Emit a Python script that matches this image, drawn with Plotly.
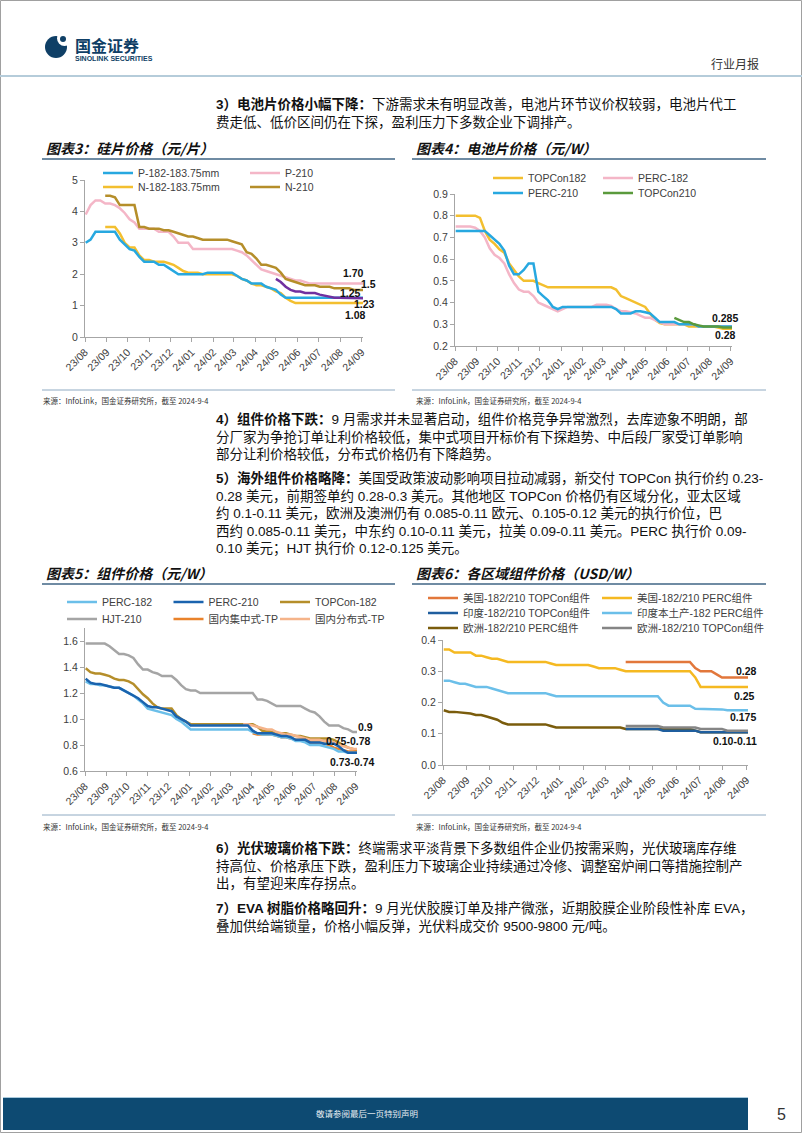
import plotly.graph_objects as go
import pandas as pd

W, H = 802, 1133
FONT_CN = "Noto Sans CJK SC"
FONT_LAT = "Liberation Sans, Arial, Noto Sans CJK SC"

# ---------------- data ----------------
week_dates = pd.date_range("2023-08-02", "2024-09-04", freq="7D").strftime("%Y-%m-%d").tolist()  # 58 weekly quotes
month_ticks = pd.date_range("2023-08-01", "2024-09-01", freq="MS").strftime("%Y-%m-%d").tolist()
month_labels = ["23/08", "23/09", "23/10", "23/11", "23/12", "24/01", "24/02",
                "24/03", "24/04", "24/05", "24/06", "24/07", "24/08", "24/09"]

# Chart 3: wafer prices (元/片)
wafer_p182 = [3.0, 3.1, 3.35, 3.35, 3.35, 3.35, 3.35, 3.1, 2.95, 2.8,
              2.75, 2.55, 2.4, 2.4, 2.4, 2.3, 2.3, 2.2, 2.1, 2.0,
              2.0, 2.0, 2.0, 2.0, 2.0, 2.05, 2.05, 2.05, 2.05, 2.05,
              2.05, 1.95, 1.85, 1.8, 1.7, 1.7, 1.7, 1.6, 1.55, 1.5,
              1.35, 1.25, 1.25, 1.25, 1.25, 1.25, 1.25, 1.25, 1.25, 1.25,
              1.25, 1.25, 1.25, 1.25, 1.25, 1.25, 1.25, 1.25]
wafer_p210 = [3.9, 4.2, 4.35, 4.35, 4.25, 4.25, 4.2, 4.1, 3.95, 3.75,
              3.65, 3.45, 3.45, 3.45, 3.45, 3.35, 3.35, 3.35, 3.2, 3.0,
              3.0, 3.0, 2.8, 2.8, 2.8, 2.8, 2.8, 2.8, 2.8, 2.8,
              2.8, 2.75, 2.7, 2.6, 2.45, 2.3, 2.15, 2.1, 2.05, 2.0,
              1.95, 1.9, 1.85, 1.8, 1.8, 1.75, 1.7, 1.7, 1.7, 1.7,
              1.7, 1.7, 1.7, 1.7, 1.7, 1.7, 1.7, 1.7]
wafer_n182 = [None, None, None, None, 3.5, 3.5, 3.5, 3.3, 3.0, 2.85,
              2.85, 2.6, 2.45, 2.45, 2.4, 2.4, 2.4, 2.35, 2.3, 2.2,
              2.1, 2.05, 2.05, 2.05, 2.0, 2.0, 2.0, 2.0, 2.0, 2.0,
              2.0, 1.95, 1.85, 1.8, 1.7, 1.65, 1.65, 1.6, 1.55, 1.45,
              1.4, 1.25, 1.15, 1.08, 1.08, 1.08, 1.08, 1.08, 1.08, 1.08,
              1.08, 1.08, 1.08, 1.08, 1.08, 1.08, 1.08, 1.08]
wafer_n210 = [None, None, None, None, 4.5, 4.5, 4.45, 4.2, 4.2, 4.2,
              4.2, 3.5, 3.5, 3.45, 3.45, 3.45, 3.4, 3.4, 3.35, 3.3,
              3.25, 3.2, 3.2, 3.15, 3.1, 3.1, 3.1, 3.1, 3.1, 3.1,
              3.05, 3.0, 2.95, 2.7, 2.65, 2.5, 2.3, 2.3, 2.25, 2.2,
              2.05, 1.85, 1.8, 1.75, 1.7, 1.65, 1.65, 1.65, 1.6, 1.6,
              1.6, 1.55, 1.55, 1.55, 1.55, 1.5, 1.5, 1.5]
wafer_other = [None, None, None, None, None, None, None, None, None, None,
               None, None, None, None, None, None, None, None, None, None,
               None, None, None, None, None, None, None, None, None, None,
               None, None, None, None, None, None, None, None, None, 1.85,
               1.75, 1.6, 1.5, 1.45, 1.45, 1.4, 1.4, 1.4, 1.35, 1.32,
               1.3, 1.25, 1.25, 1.25, 1.25, 1.25, 1.23, 1.23]
wafer_labels = ["1.70", "1.5", "1.25", "1.23", "1.08"]
wafer_label_x = ["2024-08-21", "2024-09-01", "2024-08-16", "2024-09-01", "2024-08-23"]
wafer_label_y = [2.04, 1.69, 1.40, 1.05, 0.70]

# Chart 4: cell prices (元/W)
cell_topcon182 = [0.8, 0.8, 0.8, 0.8, 0.8, 0.79, 0.73, 0.69, 0.67, 0.645,
                  0.63, 0.58, 0.55, 0.52, 0.5, 0.5, 0.5, 0.49, 0.48, 0.47,
                  0.47, 0.47, 0.47, 0.47, 0.47, 0.47, 0.47, 0.47, 0.47, 0.47,
                  0.47, 0.47, 0.47, 0.46, 0.43, 0.42, 0.41, 0.4, 0.39, 0.38,
                  0.35, 0.32, 0.305, 0.3, 0.3, 0.3, 0.3, 0.3, 0.29, 0.29,
                  0.29, 0.29, 0.29, 0.29, 0.285, 0.28, 0.28, 0.28]
cell_perc182 = [0.75, 0.75, 0.75, 0.75, 0.745, 0.73, 0.7, 0.65, 0.62, 0.605,
                0.58, 0.53, 0.49, 0.46, 0.45, 0.45, 0.43, 0.4, 0.39, 0.38,
                0.37, 0.36, 0.37, 0.38, 0.38, 0.38, 0.38, 0.38, 0.38, 0.39,
                0.39, 0.39, 0.385, 0.37, 0.36, 0.36, 0.355, 0.35, 0.34, 0.33,
                0.33, 0.32, 0.31, 0.3, 0.3, 0.3, 0.3, 0.3, 0.3, 0.3,
                0.29, 0.29, 0.29, 0.29, 0.29, 0.29, 0.29, 0.29]
cell_perc210 = [0.73, 0.73, 0.73, 0.73, 0.73, 0.73, 0.73, 0.71, 0.69, 0.67,
                0.64, 0.57, 0.53, 0.53, 0.55, 0.58, 0.58, 0.45, 0.43, 0.41,
                0.38, 0.37, 0.38, 0.38, 0.38, 0.38, 0.38, 0.38, 0.38, 0.38,
                0.38, 0.38, 0.38, 0.37, 0.35, 0.35, 0.35, 0.36, 0.36, 0.355,
                0.35, 0.33, 0.31, 0.31, 0.31, 0.31, 0.3, 0.3, 0.3, 0.3,
                0.29, 0.29, 0.29, 0.29, 0.29, 0.29, 0.29, 0.29]
cell_topcon210 = [None, None, None, None, None, None, None, None, None, None,
                  None, None, None, None, None, None, None, None, None, None,
                  None, None, None, None, None, None, None, None, None, None,
                  None, None, None, None, None, None, None, None, None, None,
                  None, None, None, None, None, 0.33, 0.32, 0.31, 0.31, 0.3,
                  0.295, 0.29, 0.29, 0.29, 0.29, 0.285, 0.285, 0.285]
cell_labels = ["0.285", "0.28"]
cell_label_x = ["2024-08-24", "2024-08-24"]
cell_label_y = [0.330, 0.251]

# Chart 5: module prices (元/W)
mod_perc182 = [1.29, 1.27, 1.27, 1.26, 1.26, 1.25, 1.24, 1.24, 1.22, 1.2,
               1.18, 1.15, 1.12, 1.08, 1.07, 1.06, 1.05, 1.04, 1.03, 1.0,
               0.98, 0.95, 0.92, 0.92, 0.92, 0.92, 0.92, 0.92, 0.92, 0.92,
               0.92, 0.92, 0.92, 0.92, 0.92, 0.9, 0.89, 0.88, 0.88, 0.88,
               0.87, 0.86, 0.86, 0.85, 0.83, 0.83, 0.82, 0.8, 0.8, 0.8,
               0.79, 0.78, 0.77, 0.75, 0.75, 0.74, 0.74, 0.74]
mod_perc210 = [1.31, 1.28, 1.27, 1.27, 1.26, 1.25, 1.24, 1.24, 1.22, 1.2,
               1.18, 1.16, 1.13, 1.1, 1.09, 1.09, 1.08, 1.07, 1.06, 1.02,
               1.0, 0.98, 0.95, 0.95, 0.95, 0.95, 0.95, 0.95, 0.95, 0.95,
               0.95, 0.95, 0.95, 0.95, 0.95, 0.91, 0.89, 0.89, 0.89, 0.89,
               0.88, 0.87, 0.87, 0.86, 0.84, 0.84, 0.84, 0.82, 0.82, 0.82,
               0.81, 0.81, 0.81, 0.79, 0.76, 0.74, 0.74, 0.74]
mod_topcon182 = [1.39, 1.36, 1.35, 1.35, 1.34, 1.33, 1.31, 1.3, 1.3, 1.29,
                 1.27, 1.23, 1.19, 1.16, 1.12, 1.09, 1.08, 1.08, 1.08, 1.03,
                 1.0, 0.98, 0.96, 0.96, 0.96, 0.96, 0.96, 0.96, 0.96, 0.96,
                 0.96, 0.96, 0.96, 0.96, 0.96, 0.96, 0.94, 0.91, 0.91, 0.9,
                 0.89, 0.89, 0.89, 0.88, 0.87, 0.87, 0.86, 0.85, 0.85, 0.85,
                 0.85, 0.85, 0.84, 0.82, 0.8, 0.78, 0.77, 0.76]
mod_hjt210 = [1.58, 1.58, 1.58, 1.58, 1.58, 1.56, 1.53, 1.5, 1.5, 1.49,
              1.47, 1.42, 1.38, 1.38, 1.36, 1.35, 1.33, 1.33, 1.33, 1.3,
              1.26, 1.23, 1.22, 1.22, 1.2, 1.2, 1.2, 1.2, 1.2, 1.2,
              1.2, 1.2, 1.2, 1.2, 1.2, 1.2, 1.15, 1.15, 1.14, 1.12,
              1.1, 1.1, 1.1, 1.1, 1.1, 1.1, 1.08, 1.06, 1.05, 1.02,
              0.98, 0.95, 0.95, 0.95, 0.93, 0.92, 0.9, 0.9]
mod_central_tp = [None, None, None, None, None, None, None, None, None, None,
                  None, None, None, None, None, None, None, None, None, None,
                  None, None, None, None, None, None, None, None, None, None,
                  None, None, None, None, None, 0.89, 0.88, 0.88, 0.88, 0.88,
                  0.87, 0.86, 0.86, 0.85, 0.84, 0.84, 0.84, 0.82, 0.82, 0.82,
                  0.81, 0.8, 0.78, 0.77, 0.76, 0.75, 0.75, 0.75]
mod_distrib_tp = [None, None, None, None, None, None, None, None, None, None,
                  None, None, None, None, None, None, None, None, None, None,
                  None, None, None, None, None, None, None, None, None, None,
                  None, None, None, 0.96, 0.96, 0.95, 0.94, 0.93, 0.92, 0.92,
                  0.9, 0.89, 0.88, 0.88, 0.87, 0.86, 0.85, 0.84, 0.84, 0.84,
                  0.83, 0.83, 0.82, 0.8, 0.79, 0.78, 0.77, 0.77]
mod_labels = ["0.9", "0.75-0.78", "0.73-0.74"]
mod_label_x = ["2024-09-01", "2024-08-22", "2024-08-27"]
mod_label_y = [0.941, 0.833, 0.672]

# Chart 6: regional module prices (USD/W)
us_topcon = [None, None, None, None, None, None, None, None, None, None,
             None, None, None, None, None, None, None, None, None, None,
             None, None, None, None, None, None, None, None, None, None,
             None, None, None, None, 0.33, 0.33, 0.33, 0.33, 0.33, 0.33,
             0.33, 0.33, 0.33, 0.33, 0.33, 0.33, 0.33, 0.31, 0.3, 0.3,
             0.3, 0.29, 0.28, 0.28, 0.28, 0.28, 0.28, 0.28]
us_perc = [0.37, 0.37, 0.36, 0.36, 0.36, 0.36, 0.35, 0.35, 0.345, 0.34,
           0.34, 0.335, 0.33, 0.33, 0.33, 0.33, 0.33, 0.33, 0.33, 0.33,
           0.325, 0.32, 0.32, 0.32, 0.32, 0.32, 0.32, 0.32, 0.315, 0.31,
           0.31, 0.31, 0.31, 0.305, 0.3, 0.3, 0.3, 0.3, 0.3, 0.3,
           0.3, 0.3, 0.3, 0.3, 0.3, 0.3, 0.3, 0.28, 0.25, 0.25,
           0.25, 0.25, 0.25, 0.25, 0.25, 0.25, 0.25, 0.25]
india_topcon = [None, None, None, None, None, None, None, None, None, None,
                None, None, None, None, None, None, None, None, None, None,
                None, None, None, None, None, None, None, None, None, None,
                None, None, None, None, 0.115, 0.115, 0.115, 0.115, 0.115, 0.115,
                0.115, 0.11, 0.11, 0.11, 0.11, 0.11, 0.11, 0.11, 0.105, 0.105,
                0.105, 0.105, 0.105, 0.105, 0.105, 0.105, 0.105, 0.105]
india_perc = [0.27, 0.27, 0.265, 0.26, 0.26, 0.255, 0.25, 0.25, 0.25, 0.245,
              0.24, 0.235, 0.23, 0.23, 0.23, 0.23, 0.23, 0.23, 0.23, 0.23,
              0.225, 0.22, 0.22, 0.22, 0.22, 0.22, 0.22, 0.22, 0.22, 0.22,
              0.22, 0.22, 0.22, 0.22, 0.22, 0.22, 0.22, 0.22, 0.22, 0.22,
              0.22, 0.2, 0.19, 0.19, 0.19, 0.19, 0.19, 0.18, 0.18, 0.18,
              0.18, 0.18, 0.178, 0.175, 0.175, 0.175, 0.175, 0.175]
eu_perc = [0.175, 0.17, 0.17, 0.168, 0.165, 0.165, 0.16, 0.16, 0.155, 0.15,
           0.145, 0.135, 0.13, 0.13, 0.13, 0.13, 0.13, 0.13, 0.13, 0.13,
           0.125, 0.12, 0.12, 0.12, 0.12, 0.12, 0.12, 0.12, 0.12, 0.12,
           0.12, 0.12, 0.12, 0.12, 0.115, 0.115, 0.115, 0.115, 0.115, 0.115,
           0.115, 0.115, 0.115, 0.115, 0.115, 0.115, 0.115, 0.11, 0.105, 0.105,
           0.105, 0.105, 0.105, 0.105, 0.105, 0.105, 0.105, 0.105]
eu_topcon = [None, None, None, None, None, None, None, None, None, None,
             None, None, None, None, None, None, None, None, None, None,
             None, None, None, None, None, None, None, None, None, None,
             None, None, None, None, 0.125, 0.125, 0.125, 0.125, 0.125, 0.125,
             0.125, 0.12, 0.12, 0.12, 0.12, 0.12, 0.12, 0.12, 0.115, 0.115,
             0.115, 0.115, 0.115, 0.11, 0.11, 0.11, 0.11, 0.11]
region_labels = ["0.28", "0.25", "0.175", "0.10-0.11"]
region_label_x = ["2024-09-01", "2024-08-30", "2024-08-28", "2024-08-17"]
region_label_y = [0.301, 0.221, 0.155, 0.078]

# ---------------- helpers ----------------
def px(x):
    return x / W

def py(y):
    return 1 - y / H

annotations = []
shapes = []

def text(x, y, s, size=14, color="#1a1a1a", family=FONT_CN, xanchor="left",
         bold=False, italic=False, weight=None):
    annotations.append(dict(
        x=px(x), y=py(y), xref="paper", yref="paper", text=s, showarrow=False,
        xanchor=xanchor, yanchor="middle", align="left", borderpad=0,
        font=dict(family=family, size=size, color=color,
                  weight=weight if weight else ("bold" if bold else "normal"),
                  style="italic" if italic else "normal")))

def hline(y, x0, x1, color, width=1.0):
    shapes.append(dict(type="line", xref="paper", yref="paper", x0=px(x0), x1=px(x1),
                       y0=py(y), y1=py(y), line=dict(color=color, width=width)))

def rect(x0, y0, x1, y1, fill, line_color=None, line_width=0, kind="rect"):
    shapes.append(dict(type=kind, xref="paper", yref="paper", x0=px(x0), x1=px(x1),
                       y0=py(y1), y1=py(y0), fillcolor=fill,
                       line=dict(color=line_color or fill, width=line_width)))

fig = go.Figure()

def add_line(ax, y, name, color, legend=None, rank=1, width=2.5, lw=None):
    fig.add_trace(go.Scatter(
        x=week_dates, y=y, name=name, mode="lines",
        xaxis="x" if ax == 1 else f"x{ax}", yaxis="y" if ax == 1 else f"y{ax}",
        line=dict(color=color, width=width), connectgaps=False,
        legend=legend or "legend", showlegend=legend is not None, legendrank=rank,
        legendwidth=lw, hoverinfo="skip"))

# chart 3 (axis 1)
add_line(1, wafer_p210, "P-210", "#F4B6C7", "legend", 2, lw=110)
add_line(1, wafer_n182, "N-182-183.75mm", "#F3BF2F", "legend2", 1)
add_line(1, wafer_p182, "P-182-183.75mm", "#27A8E0", "legend", 1)
add_line(1, wafer_n210, "N-210", "#B58E2A", "legend2", 2, lw=110)
add_line(1, wafer_other, "N-other", "#7030A0", None)

# chart 4 (axis 2)
add_line(2, cell_topcon182, "TOPCon182", "#F3BF2F", "legend3", 1)
add_line(2, cell_perc182, "PERC-182", "#F4B6C7", "legend3", 2, lw=110)
add_line(2, cell_perc210, "PERC-210", "#27A8E0", "legend4", 1)
add_line(2, cell_topcon210, "TOPCon210", "#5A9A3C", "legend4", 2, lw=110)

# chart 5 (axis 3)
add_line(3, mod_hjt210, "HJT-210", "#A5A5A5", "legend6", 1)
add_line(3, mod_topcon182, "TOPCon-182", "#B58E2A", "legend5", 3, lw=110)
add_line(3, mod_distrib_tp, "国内分布式-TP", "#F5B48A", "legend6", 3, lw=110)
add_line(3, mod_central_tp, "国内集中式-TP", "#E9822B", "legend6", 2)
add_line(3, mod_perc182, "PERC-182", "#6BBFE9", "legend5", 1)
add_line(3, mod_perc210, "PERC-210", "#1A63AE", "legend5", 2)

# chart 6 (axis 4)
add_line(4, us_perc, "美国-182/210 PERC组件", "#F5B921", "legend7", 2, lw=160)
add_line(4, us_topcon, "美国-182/210 TOPCon组件", "#E2773B", "legend7", 1)
add_line(4, india_perc, "印度本土产-182 PERC组件", "#6BBFE9", "legend8", 2, lw=160)
add_line(4, eu_perc, "欧洲-182/210 PERC组件", "#7A5C0C", "legend9", 1)
add_line(4, india_topcon, "印度-182/210 TOPCon组件", "#1F5E9E", "legend8", 1)
add_line(4, eu_topcon, "欧洲-182/210 TOPCon组件", "#858585", "legend9", 2, lw=160)

# ---------------- axes ----------------
AX_COL = "#A6A6A6"
TICK_FONT = dict(family=FONT_LAT, size=10.5, color="#404040")

def xaxis(x0, x1, anchor):
    return dict(domain=[px(x0), px(x1)], anchor=anchor, type="date",
                range=["2023-08-01", "2024-09-03"], tickmode="array",
                tickvals=month_ticks, ticktext=month_labels, tickangle=-45,
                showline=True, linecolor=AX_COL, linewidth=1, ticks="outside",
                ticklen=4, tickcolor=AX_COL, showgrid=False, zeroline=False,
                tickfont=TICK_FONT, fixedrange=True, automargin=False)

def yaxis(top, bottom, anchor, rng, dtick, fmt):
    return dict(domain=[py(bottom), py(top)], anchor=anchor, range=rng,
                tick0=rng[0], dtick=dtick, tickformat=fmt,
                showline=True, linecolor=AX_COL, linewidth=1, ticks="outside",
                ticklen=4, tickcolor=AX_COL, showgrid=False, zeroline=False,
                tickfont=TICK_FONT, fixedrange=True, automargin=False)

layout_axes = dict(
    xaxis=xaxis(85, 363, "y"),
    yaxis=yaxis(180, 337, "x", [0, 5], 1, "d"),
    xaxis2=xaxis(455, 732, "y2"),
    yaxis2=yaxis(194, 346, "x2", [0.2, 0.9], 0.1, ".1f"),
    xaxis3=xaxis(85, 357, "y3"),
    yaxis3=yaxis(628, 771, "x3", [0.6, 1.7], 0.2, ".1f"),
    xaxis4=xaxis(443, 748, "y4"),
    yaxis4=yaxis(640, 765, "x4", [0, 0.4], 0.1, ".1f"),
)

# ---------------- legends (one per row) ----------------
LEG_FONT = dict(family=FONT_LAT, size=10.5, color="#404040")

def legend(x, y, entry):
    return dict(orientation="h", xref="paper", yref="paper", x=px(x), y=py(y),
                xanchor="left", yanchor="middle", bgcolor="rgba(0,0,0,0)",
                borderwidth=0, font=LEG_FONT, itemwidth=30, entrywidth=entry,
                entrywidthmode="pixels", traceorder="normal", itemclick=False,
                itemdoubleclick=False)

legends = dict(
    legend=legend(98, 173, 102), legend2=legend(98, 187, 102),
    legend3=legend(488, 178, 65), legend4=legend(488, 193, 65),
    legend5=legend(62, 602, 61.5), legend6=legend(62, 619, 61.5),
    legend7=legend(423, 598, 129), legend8=legend(423, 613, 129),
    legend9=legend(423, 628, 129),
)

# ---------------- end-of-line value labels ----------------
def value_labels(ax, labels, xs, ys, shifts=None):
    shifts = shifts or [0] * len(labels)
    for t, xv, yv, sh in zip(labels, xs, ys, shifts):
        annotations.append(dict(
            x=xv, y=yv, xref="x" if ax == 1 else f"x{ax}", yref="y" if ax == 1 else f"y{ax}",
            text=t, showarrow=False, xanchor="center", yanchor="middle", borderpad=0,
            xshift=sh,
            font=dict(family=FONT_LAT, size=10.5, color="#111111", weight="bold")))

value_labels(1, wafer_labels, wafer_label_x, wafer_label_y, [0, 7, 0, 3, 0])
value_labels(2, cell_labels, cell_label_x, cell_label_y)
value_labels(3, mod_labels, mod_label_x, mod_label_y, [10, 0, 0])
value_labels(4, region_labels, region_label_x, region_label_y)

# ---------------- page furniture ----------------
NAVY = "#0D4A72"
rect(0.5, 0.5, 801.5, 1132.5, "rgba(0,0,0,0)", "#A0A0A0", 1)
# logo
rect(45, 36, 67, 58, "#0F3F66", kind="circle")
rect(57, 31, 72, 46, "white", kind="circle")
rect(60, 36, 66, 42, "#0F3F66", kind="circle")
text(74, 45, "国金证券", size=16, color="#0F3F66", bold=True)
text(74, 58, "SINOLINK SECURITIES", size=7, color="#0F3F66", family=FONT_LAT, bold=True)
text(760, 64, "行业月报", size=12, color="#333333", xanchor="right")
hline(76, 0, 802, "#B5CCDA", 2)

BODY = 13.5
LINE = BODY * 1.3  # plotly line spacing for multi-line text
BODY_FONT = "Liberation Sans, Noto Sans CJK SC"

def para(y_first, lines, x=215):
    # one multi-line annotation per paragraph, centred on its middle line
    y_mid = y_first + (len(lines) - 1) * LINE / 2
    text(x, y_mid, "<br>".join(lines), size=BODY, color="#111111", family=BODY_FONT)

para(104, ["<b>3）电池片价格小幅下降：</b>下游需求未有明显改善，电池片环节议价权较弱，电池片代工",
           "费走低、低价区间仍在下探，盈利压力下多数企业下调排产。"])

# chart titles & rules
text(45, 148, "图表3：硅片价格（元/片）", size=14, color="#111111", bold=True, italic=True)
text(415, 148, "图表4：电池片价格（元/W）", size=14, color="#111111", bold=True, italic=True)
hline(159, 42, 395, "#3F6585", 1.5)
hline(159, 412, 766, "#3F6585", 1.5)
hline(390, 42, 395, "#8FAAC2", 1)
hline(390, 412, 766, "#8FAAC2", 1)
SRC = "来源：InfoLink，国金证券研究所，截至 2024-9-4"
text(42, 400, SRC, size=7.5, color="#333333")
text(415, 400, SRC, size=7.5, color="#333333")

para(419, ["<b>4）组件价格下跌：</b>9 月需求并未显著启动，组件价格竞争异常激烈，去库迹象不明朗，部",
           "分厂家为争抢订单让利价格较低，集中式项目开标价有下探趋势、中后段厂家受订单影响",
           "部分让利价格较低，分布式价格仍有下降趋势。"])
para(478, ["<b>5）海外组件价格略降：</b>美国受政策波动影响项目拉动减弱，新交付 TOPCon 执行价约 0.23-",
           "0.28 美元，前期签单约 0.28-0.3 美元。其他地区 TOPCon 价格仍有区域分化，亚太区域",
           "约 0.1-0.11 美元，欧洲及澳洲仍有 0.085-0.11 欧元、0.105-0.12 美元的执行价位，巴",
           "西约 0.085-0.11 美元，中东约 0.10-0.11 美元，拉美 0.09-0.11 美元。PERC 执行价 0.09-",
           "0.10 美元；HJT 执行价 0.12-0.125 美元。"])

text(45, 573, "图表5：组件价格（元/W）", size=14, color="#111111", bold=True, italic=True)
text(415, 573, "图表6：各区域组件价格（USD/W）", size=14, color="#111111", bold=True, italic=True)
hline(584, 42, 395, "#3F6585", 1.5)
hline(584, 412, 766, "#3F6585", 1.5)
hline(815, 42, 395, "#8FAAC2", 1)
hline(815, 412, 766, "#8FAAC2", 1)
text(42, 826, SRC, size=7.5, color="#333333")
text(415, 826, SRC, size=7.5, color="#333333")

para(848, ["<b>6）光伏玻璃价格下跌：</b>终端需求平淡背景下多数组件企业仍按需采购，光伏玻璃库存维",
           "持高位、价格承压下跌，盈利压力下玻璃企业持续通过冷修、调整窑炉闸口等措施控制产",
           "出，有望迎来库存拐点。"])
para(908, ["<b>7）EVA 树脂价格略回升：</b>9 月光伏胶膜订单及排产微涨，近期胶膜企业阶段性补库 EVA，",
           "叠加供给端锁量，价格小幅反弹，光伏料成交价 9500-9800 元/吨。"])

# footer
rect(3, 1098, 748, 1130, NAVY)
hline(1097.5, 3, 748, "#A9CADD", 1.2)
text(315, 1113, "敬请参阅最后一页特别声明", size=8.5, color="#E8EEF3")
text(781, 1114, "5", size=16, color="#333333", family=FONT_LAT, xanchor="center")

fig.update_layout(
    width=W, height=H, margin=dict(l=0, r=0, t=0, b=0, pad=0, autoexpand=False),
    paper_bgcolor="white", plot_bgcolor="white", showlegend=True,
    annotations=annotations, shapes=shapes, hovermode=False,
    **layout_axes, **legends)

fig.write_html("out.html", config={"displayModeBar": False, "staticPlot": True})
